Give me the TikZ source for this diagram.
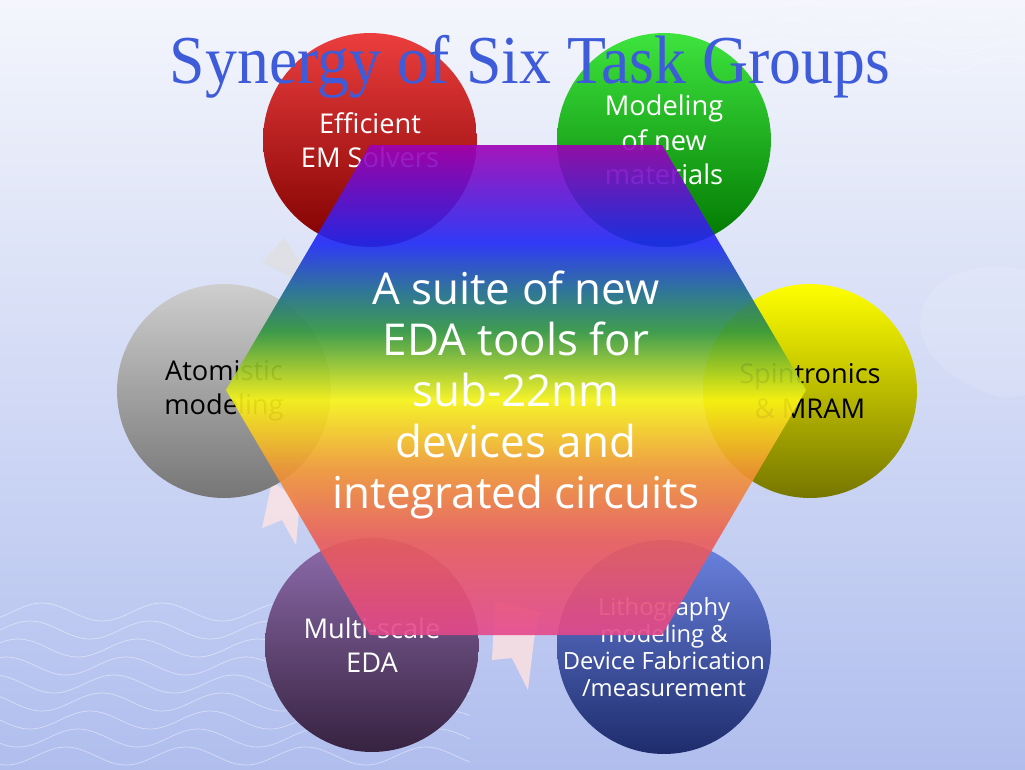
\documentclass[tikz,border=0pt]{standalone}
\usepackage{fontspec}
\setsansfont{Open Sans}
\newfontfamily\ttlfont{Liberation Serif}
\usepackage{xcolor}
\usepackage{tikz}
\usetikzlibrary{calc}
\definecolor{bgtop}{RGB}{244,246,252}
\definecolor{bgmid}{RGB}{220,225,246}
\definecolor{bgbot}{RGB}{176,190,238}
\definecolor{ttlblue}{RGB}{62,92,218}
\definecolor{redT}{RGB}{236,62,62}
\definecolor{redB}{RGB}{128,0,0}
\definecolor{grnT}{RGB}{62,228,62}
\definecolor{grnB}{RGB}{0,118,0}
\definecolor{gryT}{RGB}{206,206,206}
\definecolor{gryB}{RGB}{118,118,118}
\definecolor{ylwT}{RGB}{255,255,0}
\definecolor{ylwB}{RGB}{118,118,0}
\definecolor{prpT}{RGB}{142,108,172}
\definecolor{prpB}{RGB}{54,34,64}
\definecolor{bluT}{RGB}{108,132,226}
\definecolor{bluB}{RGB}{30,44,108}
\definecolor{hxPink}{RGB}{228,72,140}
\definecolor{hxRed}{RGB}{234,92,88}
\definecolor{hxOrange}{RGB}{242,150,52}
\definecolor{hxYellow}{RGB}{250,246,20}
\definecolor{hxGreen}{RGB}{48,150,62}
\definecolor{hxTeal}{RGB}{30,108,140}
\definecolor{hxBlue}{RGB}{30,40,246}
\definecolor{hxPurple}{RGB}{158,0,180}
\pgfdeclareverticalshading{rainbow}{100bp}{%
  color(0bp)=(hxPink); color(25bp)=(hxPink); color(34.7bp)=(hxRed);
  color(41.8bp)=(hxOrange); color(49bp)=(hxYellow); color(56bp)=(hxGreen);
  color(60bp)=(hxTeal); color(65bp)=(hxBlue); color(75bp)=(hxPurple);
  color(100bp)=(hxPurple)}
\tikzset{
  group/.style={circle,inner sep=-8pt,minimum size=4.28cm,align=center,
    font=\sffamily\fontsize{15.5}{19.5}\selectfont},
  smallgroup/.style={group,font=\sffamily\fontsize{13.5}{15.5}\selectfont},
  suite/.style={align=center,text=white,
    font=\sffamily\fontsize{25}{29}\selectfont},
  ttl/.style={anchor=base,font=\ttlfont\fontsize{39}{40}\selectfont}
}
\newcommand{\backdrop}{%
  \shade[top color=bgtop,middle color=bgmid,bottom color=bgbot]
    (0,0) rectangle (1025,769);
  \foreach \yy in {612,630,648,666,684,702,720,738,756}
    \draw[white,opacity=.45,thin]
      plot[domain=0:470,samples=80,smooth] (\x,{\yy+9*sin(3*\x+2*\yy)});
  \foreach \yy in {10,28,46,64}
    \draw[white,opacity=.35,thin]
      plot[domain=720:1025,samples=60,smooth] (\x,{\yy+8*sin(3*\x+2*\yy)});
  \fill[white,opacity=.13] (1025,270) .. controls (930,250) and (880,330) .. (960,380)
    .. controls (1000,400) .. (1025,395) -- cycle;
}
\newcommand{\faintarrows}{%
  \fill[gray!25,opacity=.7] (262,262) -- (284,238) -- (300,262) -- (318,250) -- (305,285) -- cycle;
  \fill[pink!40,opacity=.8] (272,482) -- (300,500) -- (296,545) -- (282,520) -- (262,528) -- cycle;
  \fill[pink!45,opacity=.8] (495,600) -- (540,612) -- (534,640) -- (528,690) -- (512,658) -- (492,660) -- cycle;
}

\begin{document}
\begin{tikzpicture}[x=0.02cm,y=-0.02cm]
\useasboundingbox (0,0) rectangle (1025,769);
\backdrop \faintarrows
% six task groups
\node[group,top color=redT,bottom color=redB,text=white] (em) at (370,140) {Efficient\\EM Solvers};
\node[group,top color=grnT,bottom color=grnB,text=white] (mat) at (664,140) {Modeling\\of new\\materials};
\node[group,top color=gryT,bottom color=gryB,text=black] (atom) at (224,391) {Atomistic\\modeling};
\node[group,top color=ylwT,bottom color=ylwB,text=black] (spin) at (810,391) {Spintronics\\\& MRAM};
\node[group,top color=prpT,bottom color=prpB,text=white] (multi) at (372,645) {Multi-scale\\EDA};
\node[smallgroup,top color=bluT,bottom color=bluB,text=white] (litho) at (664,647)
  {Lithography\\modeling \&\\Device Fabrication\\/measurement};
% hexagon in the middle
\shade[shading=rainbow,opacity=.9] (370,145) -- (662,145) -- (806,390) -- (662,635)
  -- (370,635) -- (226,390) -- cycle;
\node[suite] (suite) at (516,395)
  {A suite of new\\EDA tools for\\sub-22nm\\devices and\\integrated circuits};
\node[ttl,text=ttlblue] (title) at (530,83) {\scalebox{.93}[1]{Synergy of Six Task Groups}};
\end{tikzpicture}
\end{document}
